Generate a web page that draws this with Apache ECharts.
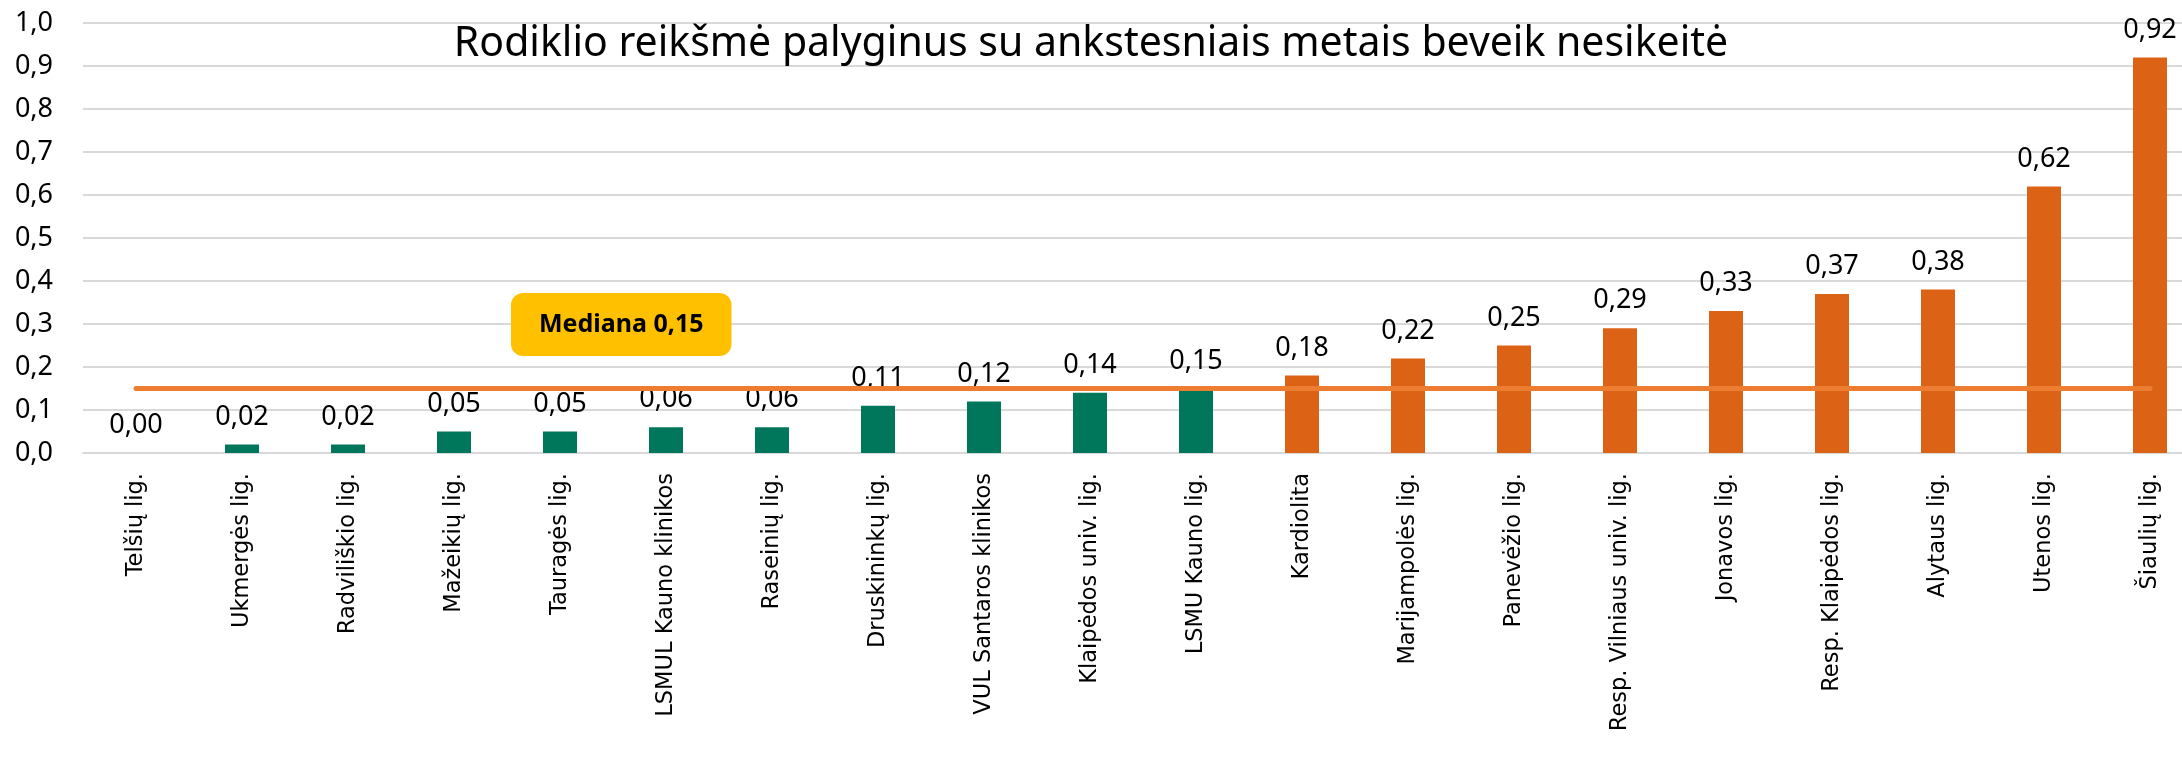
<!DOCTYPE html>
<html>
<head>
<meta charset="utf-8">
<script src="https://cdn.jsdelivr.net/npm/echarts@6/dist/echarts.min.js"></script>
<style>
html,body{margin:0;padding:0;background:#fff;}
#chart{width:2182px;height:768px;}
</style>
</head>
<body>
<div id="chart"></div>
<script>
const categories = ["Telšių lig.","Ukmergės lig.","Radviliškio lig.","Mažeikių lig.","Tauragės lig.","LSMUL Kauno klinikos","Raseinių lig.","Druskininkų lig.","VUL Santaros klinikos","Klaipėdos univ. lig.","LSMU Kauno lig.","Kardiolita","Marijampolės lig.","Panevėžio lig.","Resp. Vilniaus univ. lig.","Jonavos lig.","Resp. Klaipėdos lig.","Alytaus lig.","Utenos lig.","Šiaulių lig."];
const values = [0.00,0.02,0.02,0.05,0.05,0.06,0.06,0.11,0.12,0.14,0.15,0.18,0.22,0.25,0.29,0.33,0.37,0.38,0.62,0.92];
const medianValue = 0.15;
const medianLine = categories.map(() => medianValue);
const titleText = "Rodiklio reikšmė palyginus su ankstesniais metais beveik nesikeitė";
const medianText = "Mediana 0,15";
const yTicks = {min: 0, max: 1, interval: 0.1};

const fmt = (v, d) => v.toFixed(d).replace('.', ',');
const chart = echarts.init(document.getElementById('chart'), null, {renderer: 'canvas'});
chart.setOption({
  animation: false,
  backgroundColor: '#ffffff',
  title: [
    {text: titleText, left: 'center', top: 19,
     textStyle: {fontFamily: 'Noto Sans', fontSize: 41, fontWeight: 'normal', color: '#000'}},
    {text: medianText, left: 511, top: 293,
     backgroundColor: '#FFC000', borderRadius: 12, padding: [19, 28, 19, 28],
     textStyle: {fontFamily: 'Noto Sans', fontSize: 25, fontWeight: 'bold', color: '#000'}}
  ],
  grid: {left: 83, width: 2120, top: 23, bottom: 315, containLabel: false, outerBoundsMode: 'none'},
  xAxis: {
    type: 'category', data: categories, boundaryGap: true,
    axisLine: {show: true, lineStyle: {color: '#D9D9D9', width: 2}},
    axisTick: {show: false},
    axisLabel: {rotate: 90, interval: 0, margin: 20, fontFamily: 'DejaVu Sans', fontSize: 22.5, color: '#000'}
  },
  yAxis: {
    type: 'value', min: yTicks.min, max: yTicks.max, interval: yTicks.interval,
    axisLine: {show: false}, axisTick: {show: false},
    splitLine: {lineStyle: {color: '#D9D9D9', width: 2}},
    axisLabel: {margin: 30, fontFamily: 'Noto Sans', fontSize: 27, color: '#000', formatter: v => fmt(v, 1)}
  },
  series: [
    {
      type: 'bar', data: values, barWidth: 34, z: 2,
      itemStyle: {color: p => p.value > medianValue ? '#DC6316' : '#00775A'},
      label: {show: true, position: 'top', distance: 14, fontFamily: 'Noto Sans', fontSize: 27, color: '#000',
              formatter: p => fmt(p.value, 2)}
    },
    {
      type: 'line', data: medianLine, symbol: 'none', z: 5, silent: true,
      lineStyle: {color: '#ED7D31', width: 5, cap: 'round'}
    }
  ]
});
</script>
</body>
</html>
